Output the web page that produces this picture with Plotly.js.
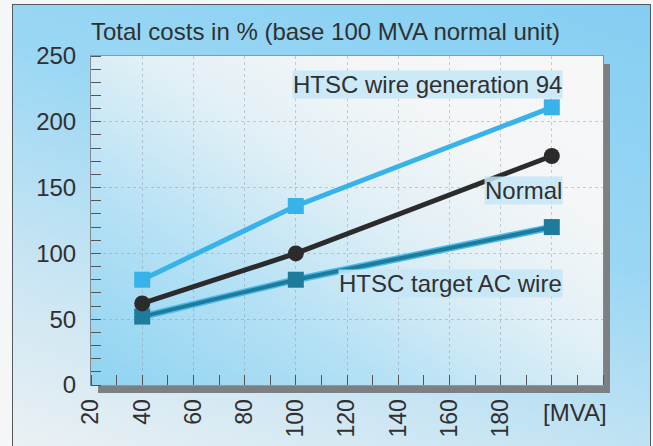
<!DOCTYPE html>
<html>
<head>
<meta charset="utf-8">
<script src="https://cdn.plot.ly/plotly-3.0.1.min.js"></script>
<style>
  html, body { margin: 0; padding: 0; background: #ffffff; }
  #wrap { position: relative; width: 653px; height: 446px; overflow: hidden; background: #f4f6f7; }
  #frame { position: absolute; left: 12px; top: 4px; width: 637px; height: 460px;
    border: 1px solid #55595c;
    background: linear-gradient(200deg, #84cef2 0%, #9bd7f4 40%, #cfe7f3 75%, #eef2f4 100%); }
  #plotbg { position: absolute; left: 91px; top: 56px; width: 512px; height: 329px;
    background: linear-gradient(to top right, #8fd3f1 0%, #b6e1f5 30%, #e2f0f6 55%, #f4f6f7 75%, #f7f7f7 100%);
    box-shadow: 7px 8px 0 #7c8083; }
  #chart { position: absolute; left: 0; top: 0; width: 653px; height: 446px; }
</style>
</head>
<body>
<div id="wrap">
  <div id="frame"></div>
  <div id="plotbg"></div>
  <div id="chart"></div>
</div>
<script>
// Data
const mva = [40, 100, 200];
const htscGen94 = [80, 136, 211];
const normalUnit = [62, 100, 174];
const htscTargetAC = [52, 80, 120];

const xTickVals = [20, 40, 60, 80, 100, 120, 140, 160, 180, 200];
const xTickText = ['20', '40', '60', '80', '100', '120', '140', '160', '180', ''];
const yTickVals = [0, 50, 100, 150, 200, 250];
const yTickText = ['0', '50', '100', '150', '200', '250'];

const titleText = 'Total costs in % (base 100 MVA normal unit)';
const unitText = '[MVA]';
const labelGen94 = 'HTSC wire generation 94';
const labelNormal = 'Normal';
const labelTarget = 'HTSC target AC wire';

const FONT = '"Liberation Sans", Arial, Helvetica, sans-serif';
const TXT = '#303030';
const FS = 24;

const traces = [
  { x: mva, y: htscTargetAC, mode: 'lines', line: { color: '#49bbea', width: 7 }, hoverinfo: 'skip' },
  { x: mva, y: htscTargetAC, mode: 'lines+markers', line: { color: '#1f7b9c', width: 4 },
    marker: { symbol: 'square', size: 16, color: '#1f7b9c' } },
  { x: mva, y: normalUnit, mode: 'lines+markers', line: { color: '#2b2b2b', width: 5 },
    marker: { symbol: 'circle', size: 16, color: '#2b2b2b' } },
  { x: mva, y: htscGen94, mode: 'lines+markers', line: { color: '#37b3ea', width: 5 },
    marker: { symbol: 'square', size: 16, color: '#37b3ea' } }
];

const labelBg = 'rgba(196,230,247,0.85)';
const gridCol = 'rgba(130,140,150,0.4)';
const layout = {
  width: 653, height: 446,
  margin: { l: 91, r: 50, t: 56, b: 61 },
  paper_bgcolor: 'rgba(0,0,0,0)',
  plot_bgcolor: 'rgba(0,0,0,0)',
  showlegend: false,
  font: { family: FONT, size: FS, color: TXT },
  title: { text: titleText, x: 0, xref: 'paper', xanchor: 'left', y: 0.93, yref: 'container', yanchor: 'middle',
    font: { family: FONT, size: FS, color: TXT } },
  xaxis: {
    range: [20, 220], tickmode: 'array', tickvals: xTickVals, ticktext: xTickText,
    tickangle: -90, ticks: '', ticklabelstandoff: 4,
    showgrid: true, gridcolor: gridCol, gridwidth: 1, griddash: 'dot',
    showline: true, mirror: true, linecolor: '#8e989f', linewidth: 1,
    zeroline: false, tickfont: { family: FONT, size: FS - 1, color: TXT },
    minor: { dtick: 10, tick0: 20, ticks: 'inside', ticklen: 10, tickcolor: '#555', tickwidth: 1, showgrid: false }
  },
  yaxis: {
    range: [0, 250], tickmode: 'array', tickvals: yTickVals, ticktext: yTickText,
    ticks: '', ticklabelstandoff: 9,
    showgrid: true, gridcolor: gridCol, gridwidth: 1, griddash: 'dot',
    showline: true, mirror: true, linecolor: '#7f8a92', linewidth: 1,
    zeroline: false, tickfont: { family: FONT, size: FS, color: TXT },
    minor: { dtick: 10, tick0: 0, ticks: 'inside', ticklen: 10, tickcolor: '#555', tickwidth: 1, showgrid: false }
  },
  annotations: [
    { text: labelGen94, x: 204.5, y: 228, xref: 'x', yref: 'y', xanchor: 'right', yanchor: 'middle',
      showarrow: false, bgcolor: labelBg, borderpad: 0, font: { family: FONT, size: FS, color: TXT } },
    { text: labelNormal, x: 204.5, y: 147.5, xref: 'x', yref: 'y', xanchor: 'right', yanchor: 'middle',
      showarrow: false, bgcolor: labelBg, borderpad: 0, font: { family: FONT, size: FS, color: TXT } },
    { text: labelTarget, x: 204.5, y: 77.5, xref: 'x', yref: 'y', xanchor: 'right', yanchor: 'middle',
      showarrow: false, bgcolor: labelBg, borderpad: 0, font: { family: FONT, size: FS, color: TXT } },
    { text: unitText, x: 209, y: -0.085, xref: 'x', yref: 'paper', xanchor: 'center', yanchor: 'middle',
      showarrow: false, font: { family: FONT, size: FS, color: TXT } }
  ]
};

Plotly.newPlot('chart', traces, layout, { staticPlot: true, displayModeBar: false });
</script>
</body>
</html>
